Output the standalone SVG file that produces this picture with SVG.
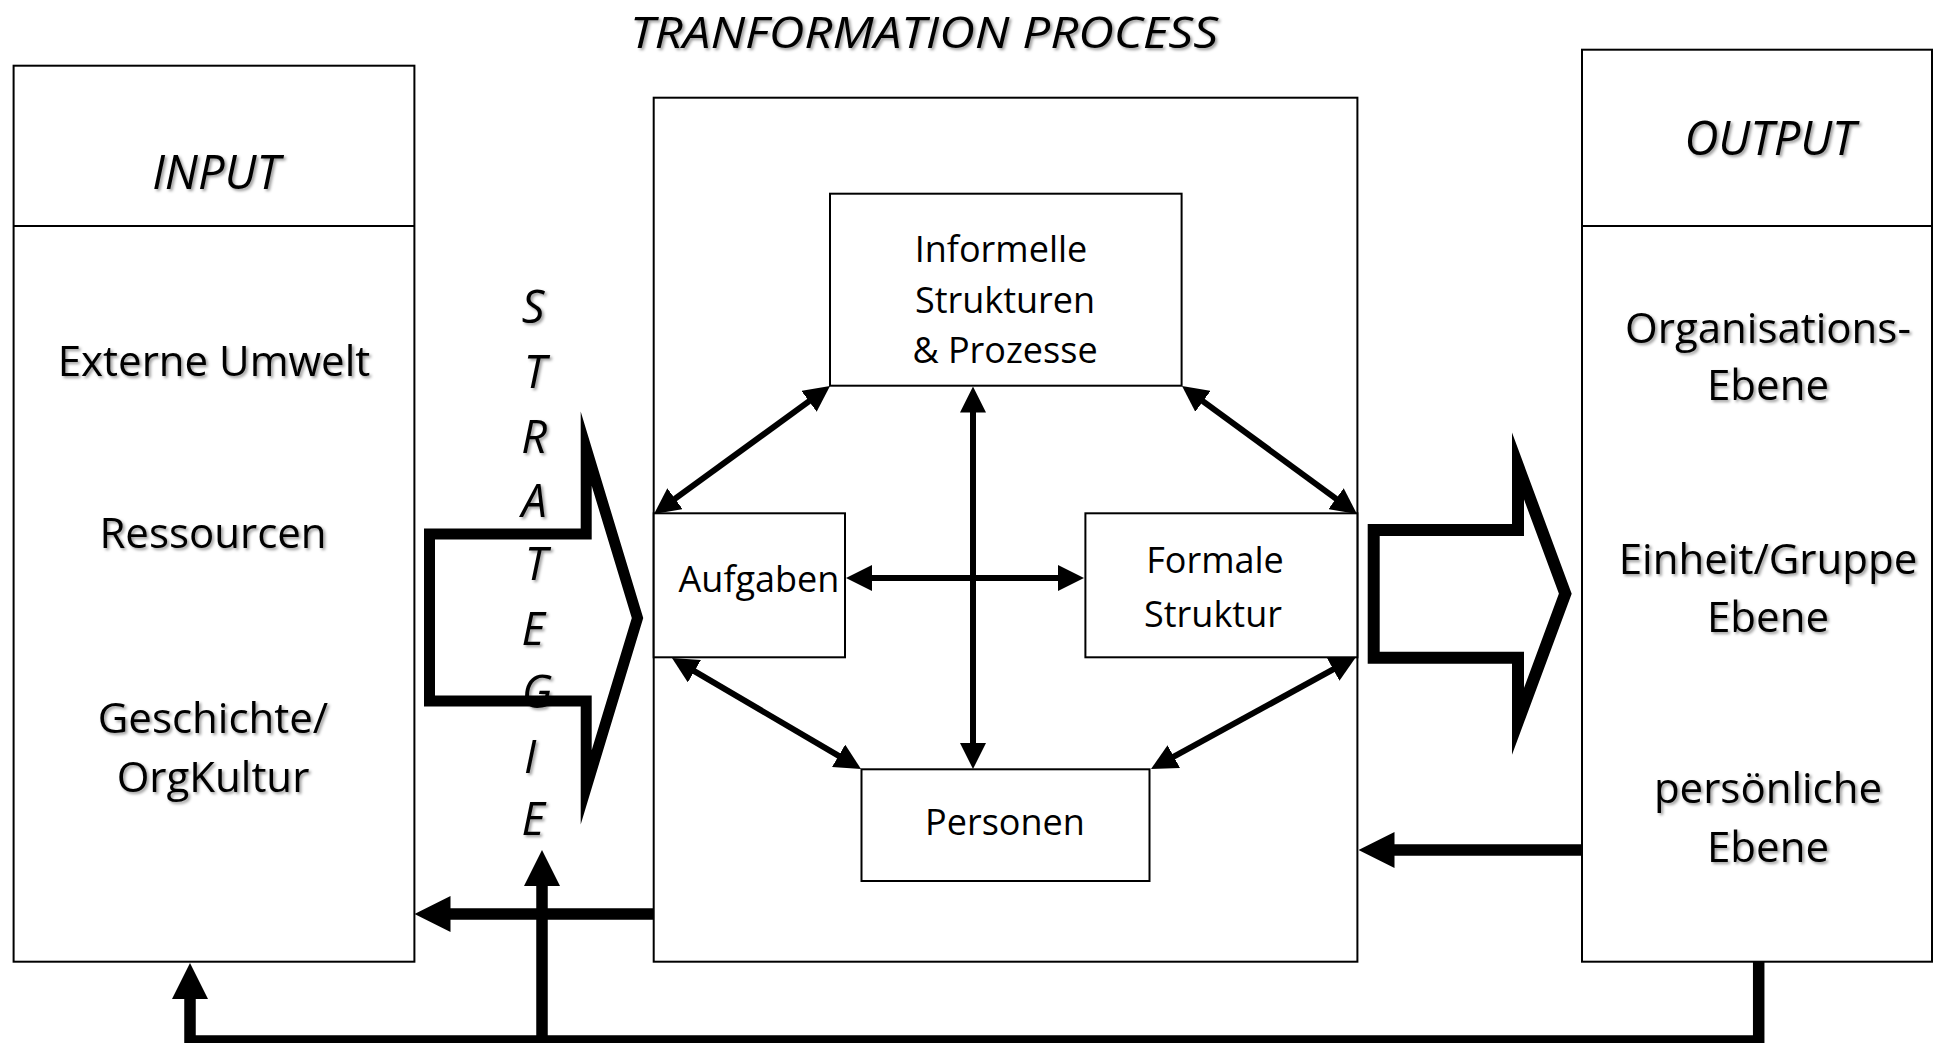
<svg xmlns="http://www.w3.org/2000/svg" width="1934" height="1043" viewBox="0 0 1934 1043">
<style>
.box{fill:#fff;stroke:#000;stroke-width:2}
.t{font-family:"Open Sans","Liberation Sans",sans-serif;fill:#000;text-anchor:middle}
.sh{filter:url(#shadow)}
.it{font-style:italic}
.side{font-size:42px}
.inner{font-size:36px}
.thin{fill:none;stroke:#000;stroke-width:6;marker-start:url(#ah);marker-end:url(#ah)}
.thick{fill:none;stroke:#000;stroke-width:11.5;stroke-linejoin:miter}
.big{fill:none;stroke:#000;stroke-linejoin:miter;stroke-miterlimit:12}
</style>
<defs>
<filter id="shadow" x="-10%" y="-20%" width="120%" height="150%">
<feDropShadow dx="2" dy="2" stdDeviation="1.8" flood-color="#000" flood-opacity="0.4"/>
</filter>
<marker id="ah" markerUnits="userSpaceOnUse" viewBox="0 0 26 26" markerWidth="26" markerHeight="26" refX="13" refY="13" orient="auto-start-reverse">
<path d="M0,0 L26,13 L0,26 z" fill="#000"/>
</marker>
<marker id="AH" markerUnits="userSpaceOnUse" viewBox="0 0 36 36" markerWidth="36" markerHeight="36" refX="18" refY="18" orient="auto">
<path d="M0,0 L36,18 L0,36 z" fill="#000"/>
</marker>
</defs>
<rect width="1934" height="1043" fill="#fff"/>

<text class="t it sh" x="924" y="48" font-size="44" textLength="588" lengthAdjust="spacingAndGlyphs">TRANFORMATION PROCESS</text>

<g id="input">
<rect class="box" x="13.6" y="65.7" width="400.8" height="896"/>
<line x1="13.6" y1="226" x2="414.4" y2="226" stroke="#000" stroke-width="2"/>
<text class="t it sh" x="216" y="189" font-size="47">INPUT</text>
<text class="t side sh" x="214" y="376">Externe Umwelt</text>
<text class="t side sh" x="213" y="548">Ressourcen</text>
<text class="t side sh" x="213" y="733">Geschichte/</text>
<text class="t side sh" x="213" y="792">OrgKultur</text>
</g>

<g id="output">
<rect class="box" x="1582" y="49.7" width="350" height="912"/>
<line x1="1582" y1="226" x2="1932" y2="226" stroke="#000" stroke-width="2"/>
<text class="t it sh" x="1770" y="155" font-size="47">OUTPUT</text>
<text class="t side sh" x="1768" y="343">Organisations-</text>
<text class="t side sh" x="1768" y="400">Ebene</text>
<text class="t side sh" x="1768" y="574">Einheit/Gruppe</text>
<text class="t side sh" x="1768" y="632">Ebene</text>
<text class="t side sh" x="1768" y="803">persönliche</text>
<text class="t side sh" x="1768" y="862">Ebene</text>
</g>

<g id="transformation">
<rect class="box" x="653.7" y="97.7" width="703.7" height="864"/>
</g>

<g id="informelle">
<rect class="box" x="830" y="193.7" width="351.6" height="192"/>
<text class="t inner" x="1001" y="262">Informelle</text>
<text class="t inner" x="1005" y="313">Strukturen</text>
<text class="t inner" x="1005" y="363">&amp; Prozesse</text>
</g>

<g id="aufgaben">
<rect class="box" x="653.7" y="513.3" width="191.3" height="144"/>
<text class="t inner" x="759" y="592">Aufgaben</text>
</g>

<g id="formale">
<rect class="box" x="1085.4" y="513.3" width="272" height="144"/>
<text class="t inner" x="1215" y="573">Formale</text>
<text class="t inner" x="1213" y="627">Struktur</text>
</g>

<g id="personen">
<rect class="box" x="861.5" y="769.3" width="288" height="111.7"/>
<text class="t inner" x="1005" y="835">Personen</text>
</g>

<g id="strategie">
<polygon class="big" stroke-width="11" points="429.5,534 586.2,534 586.2,448.7 637.5,618 586.2,787.3 586.2,701 429.5,701"/>
<g class="t it sh" font-size="45">
<text x="533" y="323">S</text>
<text x="535" y="388">T</text>
<text x="534" y="453">R</text>
<text x="534" y="517">A</text>
<text x="536" y="580">T</text>
<text x="533" y="645">E</text>
<text x="537" y="708">G</text>
<text x="530" y="773">I</text>
<text x="533" y="835">E</text>
</g>
</g>

<g id="output-arrow">
<polygon class="big" stroke-width="12" points="1373.7,530 1518,530 1518,466 1565.3,593.7 1518,721.4 1518,657.8 1373.7,657.8"/>
</g>

<g id="connectors">
<line class="thin" x1="819.5" y1="393.6" x2="664.5" y2="506.4"/>
<line class="thin" x1="1192.5" y1="393.6" x2="1346.5" y2="506.4"/>
<line class="thin" x1="683.2" y1="664.6" x2="849.8" y2="762.4"/>
<line class="thin" x1="1344.6" y1="663.2" x2="1162.4" y2="762.8"/>
<line class="thin" x1="973" y1="399.5" x2="973" y2="756"/>
<line class="thin" x1="859" y1="578" x2="1071" y2="578"/>
<line class="thick" x1="654" y1="914" x2="432.5" y2="914" marker-end="url(#AH)"/>
<line class="thick" x1="1582" y1="850" x2="1376.5" y2="850" marker-end="url(#AH)"/>
<path class="thick" d="M1758.7,962 V1041 H190 V981" marker-end="url(#AH)"/>
<line class="thick" x1="542" y1="1041" x2="542" y2="868" marker-end="url(#AH)"/>
</g>
</svg>
